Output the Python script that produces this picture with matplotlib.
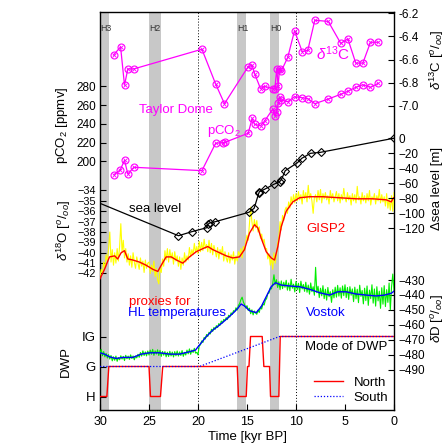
import matplotlib
matplotlib.use("Agg")
import matplotlib.pyplot as plt
import numpy as np

plt.rcParams['font.family'] = ['Liberation Sans', 'DejaVu Sans']
plt.rcParams['mathtext.fontset'] = 'custom'
plt.rcParams['mathtext.rm'] = 'Liberation Sans'
plt.rcParams['mathtext.it'] = 'Liberation Sans:italic'

# ---- daten ----
# Heinrich events (start, ende) in kyr BP
heinrich_names = ['H3', 'H2', 'H1', 'H0']
heinrich_span = [(30.0, 29.1), (25.0, 23.75), (16.0, 15.1), (12.7, 11.75)]

# Taylor Dome d13C
d13c_age = [28.62, 27.9, 27.5, 27.16, 26.55, 19.6, 18.2, 17.3, 14.88, 14.47, 14.23, 13.62, 13.21,
            12.36, 12.16, 11.96, 11.82, 11.68, 11.51, 10.84, 10.15, 9.37, 8.8, 8.08, 6.71, 5.43,
            4.71, 3.9, 3.18, 2.4, 1.61]
d13c = [-6.56, -6.49, -6.82, -6.68, -6.68, -6.51, -6.81, -6.98, -6.66, -6.65, -6.72, -6.85, -6.83,
        -6.85, -6.85, -6.68, -6.83, -6.68, -6.70, -6.58, -6.35, -6.53, -6.52, -6.26, -6.27, -6.46,
        -6.42, -6.63, -6.63, -6.45, -6.45]

# Taylor Dome pCO2
co2_age = [28.59, 27.94, 27.5, 27.16, 26.55, 19.6, 18.2, 17.4, 17.2, 14.88, 14.47, 14.23, 13.62,
           13.21, 12.36, 12.16, 11.96, 11.82, 11.68, 11.51, 10.84, 10.15, 9.37, 8.8, 8.08, 6.71,
           5.43, 4.71, 3.9, 3.18, 2.4, 1.61]
co2 = [185.7, 190.7, 201, 186.4, 193.6, 190, 219.3, 220, 220.5, 230, 246, 239.6, 238, 243, 256,
       248.4, 252.4, 262, 268.4, 265.6, 263.7, 269.1, 268, 267, 261.6, 266.6, 271.7, 274.9, 279.1,
       281.9, 279.1, 283.4]

# Meeresspiegel
sl_age = [30.0, 21.99, 20.63, 19.1, 19.0, 18.76, 18.24, 14.82, 14.27, 13.8, 13.73, 13.21, 12.26,
          11.68, 11.51, 11.1, 9.85, 9.41, 8.52, 7.5, 0.05]
sl = [-86.7, -129.9, -124.5, -119.2, -114.7, -112.5, -111.2, -98.7, -93.3, -73.3, -71.2, -68,
      -61.3, -57.9, -55.6, -43.2, -32.5, -26.7, -20, -18.7, 0]

# GISP2 d18O geglaettet
gisp_s_age = [30, 29.54, 29.03, 28.5, 28.2, 27.84, 27.5, 27.16, 26.65, 25.97, 25.3, 24.6, 24.1,
              23.75, 23.25, 22.73, 22.2, 21.55, 20.87, 20.18, 19.5, 19.0, 18.49, 17.8, 17.12,
              16.45, 15.77, 15.26, 14.74, 14.23, 13.9, 13.55, 13.04, 12.53, 12.19, 11.85, 11.51,
              11.0, 10.33, 9.64, 8.62, 7.26, 5.56, 3.86, 2.16, 0.79, 0.28, 0.05]
gisp_s = [-42.5, -41.6, -40.4, -40.3, -40.6, -40.0, -39.8, -40.6, -40.7, -40.9, -41.2, -41.6,
          -41.8, -41.2, -40.4, -40.4, -40.7, -41.0, -40.4, -39.9, -39.6, -39.4, -39.7, -40.0,
          -40.3, -40.5, -40.4, -39.7, -38.1, -37.3, -37.6, -38.6, -39.9, -40.5, -40.7, -39.4,
          -37.5, -36.0, -35.1, -34.7, -34.6, -34.6, -34.7, -34.8, -34.8, -34.9, -35.1, -34.7]

# GISP2 d18O roh, alle 0.125 kyr von 30 bis 0 (eine zeile = 1 kyr)
gisp_r_age = np.arange(30.0, -0.01, -0.125)
gisp_r = [-42.3, -41.6, -42.0, -40.9, -41.5, -40.2, -40.8, -39.6,
          -38.0, -40.9, -39.7, -41.2, -40.0, -41.0, -39.6, -40.8,
          -39.4, -37.2, -39.9, -38.8, -40.5, -39.6, -40.9, -40.1,
          -41.2, -40.3, -41.4, -40.0, -40.9, -41.5, -40.4, -41.0,
          -41.6, -40.5, -41.3, -40.8, -41.9, -40.7, -41.5, -41.0,
          -40.9, -42.0, -41.2, -41.8, -40.8, -42.3, -41.5, -42.6,
          -43.0, -41.5, -41.9, -40.6, -41.3, -39.8, -40.7, -39.6,
          -40.9, -39.7, -40.6, -40.0, -41.1, -39.9, -40.8, -40.3,
          -41.3, -40.4, -41.6, -40.5, -41.2, -40.0, -40.9, -40.3,
          -40.7, -39.5, -40.4, -39.7, -40.2, -39.1, -40.0, -39.4,
          -40.1, -38.9, -39.9, -39.0, -39.8, -38.7, -39.6, -39.2,
          -39.9, -38.8, -40.0, -39.1, -40.2, -39.3, -39.8, -40.4,
          -39.5, -40.6, -39.7, -40.2, -39.4, -40.8, -39.9, -40.5,
          -40.9, -40.0, -41.0, -40.2, -40.7, -39.9, -41.1, -40.3,
          -40.8, -39.9, -40.3, -39.6, -40.5, -39.4, -39.8, -38.9,
          -38.3, -38.8, -37.2, -35.6, -37.0, -37.9, -36.8, -37.6,
          -36.9, -38.0, -37.5, -38.6, -38.2, -39.0, -38.7, -39.6,
          -39.6, -40.6, -40.1, -41.2, -40.4, -41.6, -40.0, -41.0,
          -40.3, -39.1, -38.5, -37.0, -37.8, -36.4, -36.9, -35.9,
          -35.6, -36.2, -35.1, -35.7, -34.6, -35.3, -34.4, -35.2,
          -34.3, -35.0, -34.1, -34.9, -34.4, -35.3, -34.0, -34.8,
          -34.2, -35.1, -33.5, -34.8, -34.3, -35.0, -36.2, -34.7,
          -34.4, -35.1, -34.0, -34.9, -33.9, -35.2, -34.3, -34.8,
          -34.2, -34.9, -34.5, -35.3, -34.0, -34.8, -34.3, -35.1,
          -34.6, -34.1, -35.0, -34.3, -35.2, -34.4, -34.9, -33.8,
          -34.7, -35.1, -34.2, -34.9, -34.5, -35.4, -34.3, -35.0,
          -34.4, -35.2, -33.6, -34.9, -34.6, -35.3, -34.2, -35.0,
          -34.5, -35.2, -34.3, -35.0, -34.0, -35.4, -34.6, -34.9,
          -34.3, -35.3, -34.5, -35.0, -33.9, -35.2, -34.4, -35.1,
          -34.6, -35.5, -34.3, -35.7, -34.8, -35.9, -34.5, -36.0,
          -34.2]

# Vostok dD geglaettet
vos_s_age = [30, 29.54, 29.03, 28.35, 27.67, 26.65, 25.8, 24.95, 23.93, 22.9, 21.9, 20.87, 20.26,
             19.85, 19.16, 18.49, 17.8, 17.12, 16.45, 15.94, 15.6, 15.26, 14.74, 14.06, 13.55,
             13.04, 12.53, 12.09, 11.51, 10.67, 9.64, 8.62, 7.6, 6.58, 5.73, 4.88, 3.86, 2.84,
             1.82, 0.97, 0.28, 0.0]
vos_s = [-478.8, -479.7, -481.5, -482.6, -481.9, -481.9, -479.7, -478.8, -478.8, -479.7, -479.7,
         -478.1, -477, -473.6, -468, -463.6, -460.2, -456.4, -452.4, -449, -446.1, -447.4,
         -450.6, -451.9, -447.9, -441.2, -434.5, -431.8, -433.4, -434, -434.5, -436.2, -438.5,
         -440.1, -437.9, -437.9, -439.4, -440.1, -440.7, -440.1, -438.9, -437.5]

# Vostok dD roh, alle 0.125 kyr von 30 bis 0 (eine zeile = 1 kyr)
vos_r_age = np.arange(30.0, -0.01, -0.125)
vos_r = [-479.5, -476.5, -480.8, -478.0, -481.5, -479.2, -482.3, -480.0,
         -483.0, -480.6, -484.2, -481.5, -483.8, -481.0, -484.5, -482.0,
         -483.5, -480.8, -483.0, -481.2, -484.0, -480.5, -482.8, -481.0,
         -483.2, -480.2, -482.6, -480.9, -483.5, -481.0, -482.2, -479.8,
         -481.8, -478.6, -481.0, -477.5, -480.6, -478.2, -480.9, -477.6,
         -480.3, -477.0, -479.8, -476.5, -480.5, -477.5, -479.6, -476.8,
         -480.6, -477.2, -481.2, -477.9, -480.4, -478.0, -481.5, -478.4,
         -481.3, -477.8, -480.9, -478.3, -481.6, -478.0, -480.8, -477.6,
         -481.0, -478.2, -480.6, -477.3, -481.2, -478.5, -480.3, -477.0,
         -479.5, -476.2, -479.8, -476.9, -478.6, -475.8, -479.0, -478.5,
         -480.2, -474.0, -473.5, -470.8, -471.9, -468.5, -469.6, -466.5,
         -467.9, -465.0, -466.2, -463.0, -464.5, -461.8, -463.1, -460.6,
         -461.9, -459.2, -460.3, -457.5, -458.9, -456.4, -457.3, -455.2,
         -456.5, -453.6, -454.8, -452.0, -453.1, -450.5, -451.4, -448.6,
         -450.2, -447.0, -445.8, -443.2, -441.5, -444.6, -446.5, -448.8,
         -447.2, -450.4, -448.9, -452.6, -450.0, -453.4, -450.8, -452.0,
         -453.0, -450.2, -451.8, -448.0, -449.5, -446.0, -446.8, -443.5,
         -442.5, -439.0, -438.8, -435.2, -436.0, -432.4, -426.5, -433.0,
         -429.8, -435.0, -431.2, -436.5, -430.6, -435.8, -431.5, -434.9,
         -430.2, -436.8, -432.0, -437.2, -429.5, -435.5, -432.8, -438.0,
         -431.0, -436.5, -432.2, -438.4, -430.8, -436.0, -433.0, -437.6,
         -431.5, -438.2, -433.4, -439.5, -432.0, -437.8, -434.5, -440.2,
         -421.5, -438.5, -434.2, -441.8, -435.5, -440.6, -433.8, -442.5,
         -436.2, -443.5, -435.0, -441.2, -437.8, -445.0, -436.5, -442.0,
         -434.8, -441.5, -433.6, -440.8, -435.2, -442.2, -434.0, -440.5,
         -433.2, -441.8, -435.0, -443.0, -434.5, -440.2, -436.0, -444.5,
         -434.8, -442.6, -436.2, -445.2, -433.5, -441.0, -437.0, -446.0,
         -435.5, -443.8, -434.0, -447.0, -436.8, -442.5, -433.2, -445.5,
         -436.0, -447.5, -434.5, -444.0, -437.5, -449.0, -435.2, -446.2,
         -433.8, -447.8, -436.5, -445.0, -432.0, -450.0, -434.6, -426.0,
         -437.0]

# Mode of DWP (0 = H, 1 = G, 2 = IG)
dwp_labels = ['H', 'G', 'IG']
north_age = [30, 29.3, 29.1, 25.0, 24.85, 23.83, 23.6, 16.0, 15.87, 15.08, 14.95, 14.8, 14.64,
             13.45, 13.28, 12.7, 12.6, 11.75, 11.61, 0]
north = [0, 0, 1, 1, 0, 0, 1, 1, 0, 0, 1, 1, 2, 2, 1, 1, 0, 0, 2, 2]
south_age = [30, 19.85, 11.68, 0]
south = [1, 1, 2, 2]

# ---- layout in pixel ----
W, H = 447, 444
L, R, T, B = 100, 394, 12, 410
rect = [L / W, 1 - B / H, (R - L) / W, (B - T) / H]

MAG = '#ff00ff'
FS = 8.5


def ylims(v1, p1, v2, p2):
    s = (v2 - v1) / (p2 - p1)
    return v1 + (B - p1) * s, v1 + (T - p1) * s


def px(x, y):
    return x / W, 1 - y / H


fig = plt.figure(figsize=(W / 100, H / 100), dpi=100)
ax = fig.add_axes(rect)
ax.set_xlim(30, 0)
ax.set_ylim(0, 1)
ax.set_yticks([])
ax.set_xticks([30, 25, 20, 15, 10, 5, 0])
ax.tick_params(axis='x', direction='in', length=4, labelsize=9, pad=4)
for s in ax.spines.values():
    s.set_linewidth(1.0)

for (a, b), name in zip(heinrich_span, heinrich_names):
    ax.axvspan(a, b, color='#c8c8c8', lw=0)
    ax.text(a - 0.05, 0.958, name, fontsize=6.3, color='#333333', ha='left', va='center')
for xv in [20, 10]:
    ax.axvline(xv, color='k', ls=(0, (1, 2)), lw=0.7)


def layer(v1, p1, v2, p2, side, ticks, fs=FS):
    a = fig.add_axes(rect, sharex=ax)
    a.set_facecolor('none')
    for s in a.spines.values():
        s.set_visible(False)
    a.set_ylim(*ylims(v1, p1, v2, p2))
    a.tick_params(axis='x', which='both', bottom=False, top=False, labelbottom=False)
    if side == 'right':
        a.yaxis.tick_right()
    a.set_yticks(ticks)
    a.tick_params(axis='y', direction='in', length=4, labelsize=fs, pad=3)
    return a


# GISP2
a_g = layer(-34, 190.5, -42, 273.5, 'left', [-34, -35, -36, -37, -38, -39, -40, -41, -42], fs=7.8)
a_g.plot(gisp_r_age, gisp_r, color='#ffff00', lw=0.8)
a_g.plot(gisp_s_age, gisp_s, color='#ff0000', lw=1.0)

# Vostok
a_v = layer(-430, 280, -490, 369.5, 'right', [-430, -440, -450, -460, -470, -480, -490])
a_v.plot(vos_r_age, vos_r, color='#00ee00', lw=0.8)
a_v.plot(vos_s_age, vos_s, color='#0000ff', lw=1.0)

# DWP
a_d = layer(0, 396.5, 2, 336.5, 'left', [0, 1, 2], fs=9.5)
a_d.set_yticklabels(dwp_labels)
a_d.plot(north_age, north, color='#ff0000', lw=1.0, label='North')
a_d.plot(south_age, south, color='#0000ff', lw=0.9, ls=(0, (1, 1.5)), label='South')
a_d.legend(loc='lower right', frameon=False, fontsize=9.5, handlelength=2.2,
           borderaxespad=0.05, labelspacing=0.25)

# Meeresspiegel
a_s = layer(0, 138.3, -120, 228.3, 'right', [0, -20, -40, -60, -80, -100, -120])
a_s.plot(sl_age, sl, color='k', lw=0.9, marker='D', ms=4, mfc='none', mew=0.8,
         markevery=list(range(1, len(sl))))

# pCO2
a_c = layer(200, 161.3, 280, 86.5, 'left', [200, 220, 240, 260, 280])
a_c.plot(co2_age, co2, color=MAG, lw=0.9, marker='o', ms=5, mfc='none', mew=0.8)
a_c.plot(co2_age, co2, ls='none', color=MAG, marker='x', ms=2.5, mew=0.6)

# d13C
a_13 = layer(-6.2, 13.3, -7.0, 106, 'right', [-6.2, -6.4, -6.6, -6.8, -7.0])
a_13.set_yticklabels(['-6.2', '-6.4', '-6.6', '-6.8', '-7.0'])
a_13.plot(d13c_age, d13c, color=MAG, lw=0.9, marker='o', ms=5, mfc='none', mew=0.8)
a_13.plot(d13c_age, d13c, ls='none', color=MAG, marker='x', ms=2.5, mew=0.6)

# beschriftungen im plot
fig.text(*px(139, 110), 'Taylor Dome', color=MAG, fontsize=9.5, va='center')
fig.text(*px(207, 131), 'pCO$_2$', color=MAG, fontsize=9.5, va='center')
fig.text(*px(316, 54), r'$\delta^{13}$C', color=MAG, fontsize=11, va='center')
fig.text(*px(129, 209), 'sea level', color='k', fontsize=9.5, va='center')
fig.text(*px(306, 229), 'GISP2', color='#ff0000', fontsize=9.5, va='center')
fig.text(*px(129, 302), 'proxies for', color='#ff0000', fontsize=9.5, va='center')
fig.text(*px(128, 313), 'HL temperatures', color='#0000ff', fontsize=9.5, va='center')
fig.text(*px(306, 313), 'Vostok', color='#0000ff', fontsize=9.5, va='center')
fig.text(*px(305, 347), 'Mode of DWP', color='k', fontsize=9.5, va='center')

# achsenbeschriftungen
fig.text(*px(62, 125), 'pCO$_2$ [ppmv]', rotation=90, fontsize=9.5, ha='center', va='center')
fig.text(*px(64, 230), r'$\delta^{18}$O [$^o/_{oo}$]', rotation=90, fontsize=9.5,
         ha='center', va='center')
fig.text(*px(66, 361), 'DWP', rotation=90, fontsize=9.5, ha='center', va='center')
fig.text(*px(437, 60), r'$\delta^{13}$C [$^o/_{oo}$]', rotation=90, fontsize=9.5,
         ha='center', va='center')
fig.text(*px(437, 188), 'Δsea level [m]', rotation=90, fontsize=9.5, ha='center', va='center')
fig.text(*px(437, 318), r'$\delta$D [$^o/_{oo}$]', rotation=90, fontsize=9.5,
         ha='center', va='center')
fig.text(*px(247, 437), 'Time [kyr BP]', fontsize=9.5, ha='center', va='center')

fig.savefig('out.png', dpi=100)
